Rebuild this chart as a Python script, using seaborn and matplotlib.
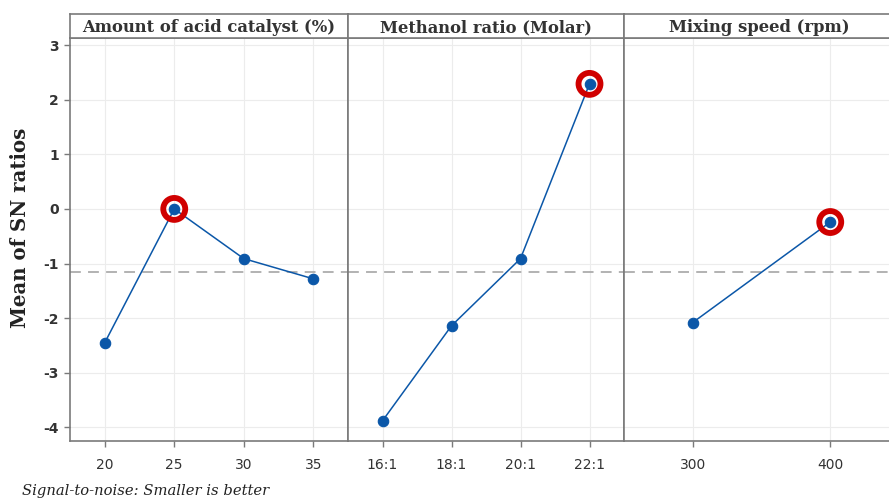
import numpy as np
import pandas as pd
import matplotlib
matplotlib.use("Agg")
import matplotlib.pyplot as plt
import seaborn as sns

# ---- data ----
factors = ["Amount of acid catalyst (%)", "Methanol ratio (Molar)", "Mixing speed (rpm)"]
catalyst_levels = ["20", "25", "30", "35"]
catalyst_sn = [-2.45, 0.00, -0.91, -1.28]
methanol_levels = ["16:1", "18:1", "20:1", "22:1"]
methanol_sn = [-3.88, -2.14, -0.91, 2.29]
speed_levels = ["300", "400"]
speed_sn = [-2.08, -0.24]
overall_mean = -1.16
y_ticks = [3, 2, 1, 0, -1, -2, -3, -4]

sns.set_theme(style="white")
plt.rcParams["font.family"] = ["DejaVu Sans"]
plt.rcParams["axes.unicode_minus"] = False

W, H = 889, 501
fig = plt.figure(figsize=(W / 100, H / 100), dpi=100)

panels = [(70, 348), (348, 624), (624, 899)]
top_px, bot_px, strip_top = 38, 441, 14
line_col = "#0b57a8"
frame_col = "#7a7a7a"

data_sets = [(catalyst_levels, catalyst_sn), (methanol_levels, methanol_sn), (speed_levels, speed_sn)]

for i, ((x0, x1), (levels, vals), title) in enumerate(zip(panels, data_sets, factors)):
    ax = fig.add_axes([x0 / W, (H - bot_px) / H, (x1 - x0) / W, (bot_px - top_px) / H])
    df = pd.DataFrame({"level": pd.Categorical(levels, categories=levels, ordered=True), "sn": vals})
    ax.axhline(overall_mean, color="#acacac", lw=1.3, ls=(0, (6, 4)), zorder=1)
    sns.pointplot(data=df, x="level", y="sn", ax=ax, color=line_col, markers="o",
                  markersize=7.5, linewidth=1.1, errorbar=None, zorder=3)
    k = int(np.argmax(vals))
    ax.scatter([k], [vals[k]], s=250, facecolor="none", edgecolor="#d00000", linewidth=4.2, zorder=4)
    ax.set_xlim(-0.5, len(levels) - 0.5)
    ax.set_ylim(-4.25, 3.13)
    ax.set_yticks(y_ticks)
    ax.grid(True, color="#ececec", lw=0.8)
    ax.set_axisbelow(True)
    ax.set_xlabel("")
    ax.set_ylabel("")
    for s in ax.spines.values():
        s.set_color(frame_col)
        s.set_linewidth(1.2)
    ax.tick_params(axis="x", bottom=True, length=4, width=1, color=frame_col,
                   labelsize=10, labelcolor="#333333", pad=8)
    if i == 0:
        ax.tick_params(axis="y", left=True, length=4, width=1, color=frame_col,
                       labelsize=10, labelcolor="#333333", pad=4)
        for t in ax.get_yticklabels():
            t.set_fontweight("bold")
    else:
        ax.tick_params(axis="y", left=False, labelleft=False)

    sax = fig.add_axes([x0 / W, (H - top_px) / H, (x1 - x0) / W, (top_px - strip_top) / H])
    sax.set_xticks([])
    sax.set_yticks([])
    sax.set_facecolor("white")
    for s in sax.spines.values():
        s.set_color(frame_col)
        s.set_linewidth(1.2)
    cx = 0.5 if i < 2 else (759 - x0) / (x1 - x0)
    sax.text(cx, 0.42, title, ha="center", va="center", family=["DejaVu Serif"],
             fontweight="bold", fontsize=11.8, color="#333333", transform=sax.transAxes)

fig.text(20 / W, 1 - 228 / H, "Mean of SN ratios", rotation=90, ha="center", va="center",
         family=["DejaVu Serif"], fontweight="bold", fontsize=14.2, color="#222222")
fig.text(22 / W, 1 - 491 / H, "Signal-to-noise: Smaller is better", ha="left", va="center",
         family=["DejaVu Serif"], style="italic", fontsize=10.6, color="#222222")

fig.savefig("out.png", dpi=100)
